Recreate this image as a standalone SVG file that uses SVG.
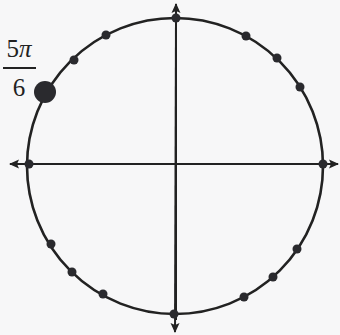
<svg xmlns="http://www.w3.org/2000/svg" width="340" height="335" viewBox="0 0 340 335">
<style>
.ax{stroke:#222;stroke-width:2;fill:none}
.circ{stroke:#222;stroke-width:2.6;fill:none}
.dot{fill:#2a2a2e}
.lbl{font-family:"Liberation Serif","DejaVu Serif",serif;font-size:25px;fill:#222;text-anchor:middle}
</style>
<defs>
<marker id="ah" viewBox="0 0 10 10" refX="9" refY="5" markerWidth="5" markerHeight="5" orient="auto" markerUnits="strokeWidth">
<path d="M0,0.5 L10,5 L0,9.5 L2,5 Z" fill="#222"/>
</marker>
</defs>
<rect width="340" height="335" fill="#f7f7f8"/>
<g id="connectors">
<line class="ax" x1="176" y1="320" x2="176" y2="4" marker-end="url(#ah)"/>
<line class="ax" x1="176" y1="18" x2="175" y2="332" marker-end="url(#ah)"/>
<line class="ax" x1="30" y1="164" x2="10" y2="164" marker-end="url(#ah)"/>
<line class="ax" x1="30" y1="164" x2="338" y2="164" marker-end="url(#ah)"/>
</g>
<g id="circle"><circle class="circ" cx="175" cy="166" r="148"/></g>
<g id="dots">
<circle class="dot" cx="176" cy="18" r="4.5"/>
<circle class="dot" cx="246" cy="36" r="4.5"/>
<circle class="dot" cx="277" cy="58" r="4.5"/>
<circle class="dot" cx="300" cy="87" r="4.5"/>
<circle class="dot" cx="323" cy="164" r="4.5"/>
<circle class="dot" cx="297" cy="249" r="4.5"/>
<circle class="dot" cx="273" cy="277" r="4.5"/>
<circle class="dot" cx="244" cy="297" r="4.5"/>
<circle class="dot" cx="174" cy="314" r="4.5"/>
<circle class="dot" cx="103" cy="294" r="4.5"/>
<circle class="dot" cx="72" cy="272" r="4.5"/>
<circle class="dot" cx="51" cy="244" r="4.5"/>
<circle class="dot" cx="29" cy="164" r="4.5"/>
<circle class="dot" cx="106" cy="35" r="4.5"/>
<circle class="dot" cx="74" cy="60" r="4.5"/>
</g>
<g id="point">
<circle class="dot" cx="45" cy="92" r="11"/>
</g>
<g id="label">
<text class="lbl" x="19" y="57">5<tspan font-style="italic">π</tspan></text>
<line x1="3" y1="68" x2="36" y2="68" stroke="#222" stroke-width="1.8"/>
<text class="lbl" x="19" y="96">6</text>
</g>
</svg>
